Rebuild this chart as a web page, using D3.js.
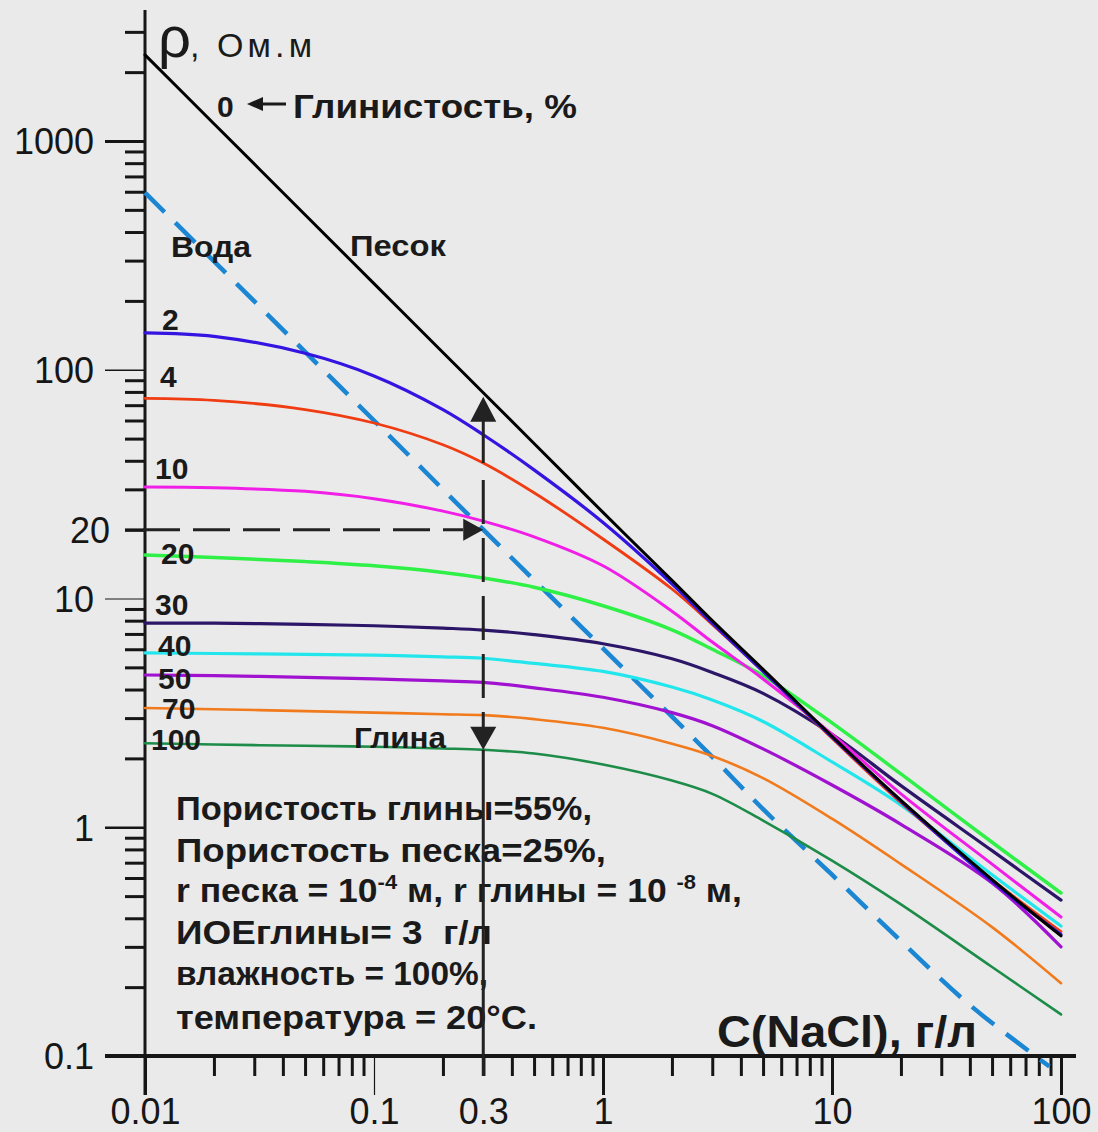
<!DOCTYPE html>
<html><head><meta charset="utf-8">
<script src="https://cdn.jsdelivr.net/npm/d3@7"></script>
<style>
body{margin:0;background:#eaeaea}
svg{display:block}
text{font-family:"Liberation Sans",Arial,sans-serif;white-space:pre}
</style>
</head><body>
<svg id="chart" width="1098" height="1132"></svg>
<script>
// ---------------- DATA ----------------
const concentration = [0.01, 0.02, 0.05, 0.1, 0.2, 0.3, 0.5, 1, 2, 3, 5, 10, 20, 50, 100];
const clay0   = [2380, 1190, 476, 238, 119, 79.3, 47.6, 23.8, 12.0, 8.0, 4.9, 2.5, 1.31, 0.59, 0.335];
const clay2   = [145, 140, 118, 94, 67, 52, 36.5, 21.5, 11.6, 7.8, 4.8, 2.48, 1.3, 0.58, 0.34];
const clay4   = [75, 73.5, 67, 58.5, 47, 39.1, 29, 18.2, 11.0, 7.7, 4.8, 2.45, 1.28, 0.59, 0.35];
const clay10  = [30.7, 30.5, 29.4, 27.3, 24.1, 21.8, 18.6, 13.9, 8.8, 6.45, 4.45, 2.55, 1.4, 0.69, 0.405];
const clay20  = [15.5, 15.1, 14.5, 13.9, 13.0, 12.3, 11.2, 9.3, 7.3, 6.0, 4.6, 2.86, 1.71, 0.86, 0.516];
const clay30  = [7.8, 7.8, 7.7, 7.6, 7.42, 7.28, 6.95, 6.34, 5.45, 4.75, 3.85, 2.55, 1.52, 0.79, 0.48];
const clay40  = [5.78, 5.75, 5.7, 5.65, 5.56, 5.48, 5.2, 4.8, 4.1, 3.6, 2.9, 1.93, 1.25, 0.62, 0.37];
const clay50  = [4.63, 4.6, 4.52, 4.45, 4.36, 4.3, 4.07, 3.7, 3.17, 2.78, 2.2, 1.53, 1.03, 0.571, 0.30];
const clay70  = [3.32, 3.28, 3.22, 3.17, 3.12, 3.09, 2.97, 2.72, 2.32, 2.05, 1.64, 1.09, 0.69, 0.366, 0.208];
const clay100 = [2.33, 2.3, 2.27, 2.25, 2.21, 2.18, 2.1, 1.88, 1.6, 1.4, 1.07, 0.715, 0.46, 0.245, 0.152];

const waterConc = [0.01, 0.1, 0.3, 1, 3, 5, 10, 20, 40, 89];
const waterRho  = [595, 60, 20, 6.05, 2.03, 1.2, 0.62, 0.318, 0.167, 0.09];

const seriesNames  = ["0", "2", "4", "10", "20", "30", "40", "50", "70", "100"];
const xMajorTicks  = [0.01, 0.1, 1, 10, 100];
const xMajorLabels = ["0.01", "0.1", "1", "10", "100"];
const xExtraTick   = [0.3];
const yMajorTicks  = [0.1, 1, 10, 100, 1000];
const yMajorLabels = ["0.1", "1", "10", "100", "1000"];
const yExtraTick   = [20];
const markValue    = 20;    // ρ marked by the horizontal arrow
const markConc     = 0.3;   // C marked by the vertical arrow

// ---------------- LAYOUT ----------------
const svg = d3.select("#chart");
svg.append("rect").attr("width", 1098).attr("height", 1132).attr("fill", "#eaeaea");

const x = d3.scaleLog().domain([0.01, 100]).range([145, 1061]);
const y = d3.scaleLog().domain([0.1, 1000]).range([1056, 141]);
const ink = "#161616";
const FONT = "Liberation Sans, Arial, sans-serif";

// minor ticks
const xMinor = [], yMinor = [];
[0.01, 0.1, 1, 10].forEach(d => { for (let k = 2; k <= 9; k++) xMinor.push(+(d * k).toPrecision(3)); });
[0.1, 1, 10, 100].forEach(d => { for (let k = 2; k <= 9; k++) yMinor.push(+(d * k).toPrecision(3)); });
yMinor.push(2000, 3000);

function styleAxis(g) { g.select(".domain").remove(); g.selectAll("line").attr("stroke", ink); }

// Y minor
svg.append("g").attr("transform", "translate(145,0)")
  .call(d3.axisLeft(y).tickValues(yMinor).tickSize(20).tickFormat(""))
  .call(styleAxis).call(g => g.selectAll("line").attr("stroke-width", 3));
// Y major
const yMajW = {0.1: 0, 1: 2.5, 10: 1.2, 100: 1.5, 1000: 3};
svg.append("g").attr("transform", "translate(145,0)")
  .call(d3.axisLeft(y).tickValues(yMajorTicks).tickSize(40).tickPadding(11)
        .tickFormat((d, i) => yMajorLabels[i]))
  .call(styleAxis)
  .call(g => g.selectAll("line").attr("stroke-width", d => yMajW[d]))
  .call(g => g.selectAll("text").attr("font-size", 36).attr("fill", ink)
        .attr("font-family", FONT).attr("dy", "0.36em"));
svg.append("g").attr("transform", "translate(145,0)")
  .call(d3.axisLeft(y).tickValues(yExtraTick).tickSize(20).tickPadding(15).tickFormat(d3.format("d")))
  .call(styleAxis)
  .call(g => g.selectAll("line").attr("stroke-width", 3))
  .call(g => g.selectAll("text").attr("font-size", 36).attr("fill", ink)
        .attr("font-family", FONT).attr("dy", "0.36em"));

// X minor
svg.append("g").attr("transform", "translate(0,1056)")
  .call(d3.axisBottom(x).tickValues(xMinor).tickSize(20).tickFormat(""))
  .call(styleAxis).call(g => g.selectAll("line").attr("stroke-width", 3));
// X major
const xMajW = {0.01: 3, 0.1: 1.2, 1: 3, 10: 3, 100: 3};
svg.append("g").attr("transform", "translate(0,1056)")
  .call(d3.axisBottom(x).tickValues(xMajorTicks).tickSize(39).tickPadding(3)
        .tickFormat((d, i) => xMajorLabels[i]))
  .call(styleAxis)
  .call(g => g.selectAll("line").attr("stroke-width", d => xMajW[d]))
  .call(g => g.selectAll("text").attr("font-size", 36).attr("fill", ink).attr("font-family", FONT));
svg.append("g").attr("transform", "translate(0,1056)")
  .call(d3.axisBottom(x).tickValues(xExtraTick).tickSize(20).tickPadding(22).tickFormat(d => String(d)))
  .call(styleAxis)
  .call(g => g.selectAll("line").attr("stroke-width", 3))
  .call(g => g.selectAll("text").attr("font-size", 36).attr("fill", ink).attr("font-family", FONT));

// axis lines
svg.append("line").attr("x1", x(0.01)).attr("x2", x(0.01)).attr("y1", 10).attr("y2", 1095)
  .attr("stroke", ink).attr("stroke-width", 3);
svg.append("line").attr("x1", 105).attr("x2", 1076).attr("y1", y(0.1)).attr("y2", y(0.1))
  .attr("stroke", ink).attr("stroke-width", 4);

// ---------------- CURVES ----------------
const line = d3.line().x(d => x(d[0])).y(d => y(d[1])).curve(d3.curveCatmullRom.alpha(0.5));

// water (dashed)
svg.append("path").datum(d3.zip(waterConc, waterRho)).attr("d", line)
  .attr("fill", "none").attr("stroke", "#1b86d3").attr("stroke-width", 4.5)
  .attr("stroke-dasharray", "28,15");

const series = [
  {v: clay100, c: "#1c8c48", w: 2.6},
  {v: clay70,  c: "#f07a1c", w: 2.6},
  {v: clay50,  c: "#a012d0", w: 3.2},
  {v: clay40,  c: "#22e6ec", w: 3.2},
  {v: clay30,  c: "#2c1668", w: 3.2},
  {v: clay20,  c: "#2ef046", w: 3.5},
  {v: clay10,  c: "#f01ee6", w: 3.0},
  {v: clay4,   c: "#f03c12", w: 2.8},
  {v: clay2,   c: "#3414e0", w: 3.2},
  {v: clay0,   c: "#000000", w: 3.0}
];
series.forEach(s => {
  svg.append("path").datum(d3.zip(concentration, s.v)).attr("d", line)
    .attr("fill", "none").attr("stroke", s.c).attr("stroke-width", s.w)
    .attr("stroke-linejoin", "round").attr("stroke-linecap", "round");
});

// ---------------- ARROWS ----------------
const iMark = concentration.indexOf(markConc);
const xa = x(markConc);
const yTop = y(clay0[iMark]) + 4;
const yRed = y(clay4[iMark]);
const yBot = y(clay100[iMark]);
const ym = y(markValue);
const ar = svg.append("g");
ar.append("path").attr("d", `M${xa},${yTop} L${xa - 13},${yTop + 25} L${xa + 13},${yTop + 25} Z`).attr("fill", "#222");
ar.append("line").attr("x1", xa).attr("x2", xa).attr("y1", yTop + 24).attr("y2", yRed)
  .attr("stroke", "#222").attr("stroke-width", 3);
ar.append("line").attr("x1", xa).attr("x2", xa).attr("y1", yRed + 17).attr("y2", yBot - 22)
  .attr("stroke", "#222").attr("stroke-width", 3).attr("stroke-dasharray", "44,14");
ar.append("path").attr("d", `M${xa},${yBot} L${xa - 13},${yBot - 23} L${xa + 13},${yBot - 23} Z`).attr("fill", "#222");
ar.append("line").attr("x1", xa).attr("x2", xa).attr("y1", 1056).attr("y2", 1076)
  .attr("stroke", "#222").attr("stroke-width", 3);
ar.append("line").attr("x1", x(0.01) - 2).attr("x2", xa - 20).attr("y1", ym).attr("y2", ym)
  .attr("stroke", "#222").attr("stroke-width", 3).attr("stroke-dasharray", "37,13");
ar.append("path").attr("d", `M${xa},${ym} L${xa - 20},${ym - 11} L${xa - 20},${ym + 11} Z`).attr("fill", "#222");

// ---------------- TEXT ----------------
function txt(xp, yp, s, size, bold, len, adj) {
  const t = svg.append("text").attr("x", xp).attr("y", yp).attr("font-size", size)
    .attr("font-weight", bold ? "bold" : "normal").attr("fill", "#1a1a1a").text(s);
  if (len) t.attr("textLength", len).attr("lengthAdjust", adj || "spacingAndGlyphs");
  return t;
}
txt(158, 57, "ρ", 58, false);
txt(190, 57, ", Ом.м", 34, false, 122, "spacing");
txt(717, 1047, "C(NaCl), г/л", 44, true, 260);
txt(217, 117, seriesNames[0], 30, true);
svg.append("line").attr("x1", 260).attr("x2", 286).attr("y1", 104).attr("y2", 104).attr("stroke", "#1a1a1a").attr("stroke-width", 3);
svg.append("path").attr("d", "M247,104 L263,97 L263,111 Z").attr("fill", "#1a1a1a");
txt(293, 118, "Глинистость, %", 34, true, 284);
txt(171, 257, "Вода", 30, true, 80);
txt(350, 256, "Песок", 30, true, 96);
txt(354, 748, "Глина", 30, true, 92);
const labelPos = [null, [162, 330], [160, 387], [155, 479], [161, 564], [155, 615], [158, 656], [158, 689], [162, 719], [151, 750]];
seriesNames.forEach((n, i) => { if (labelPos[i]) txt(labelPos[i][0], labelPos[i][1], n, 30, true); });

txt(176, 820, "Пористость глины=55%,", 34, true, 416);
txt(176, 862, "Пористость песка=25%,", 34, true, 430);
const l3 = svg.append("text").attr("x", 176).attr("y", 902).attr("font-size", 34)
  .attr("font-weight", "bold").attr("fill", "#1a1a1a");
l3.append("tspan").text("r песка = 10");
l3.append("tspan").attr("font-size", 21).attr("dy", -13).text("-4");
l3.append("tspan").attr("dy", 13).text(" м, r глины = 10 ");
l3.append("tspan").attr("font-size", 21).attr("dy", -13).text("-8");
l3.append("tspan").attr("dy", 13).text(" м,");
l3.attr("textLength", 566).attr("lengthAdjust", "spacingAndGlyphs");
txt(176, 944, "ИОЕглины= 3  г/л", 34, true, 316);
txt(176, 985, "влажность = 100%,", 34, true, 312);
txt(176, 1029, "температура = 20°C.", 34, true, 361);

// vertical guide drawn over the text block
svg.append("line").attr("x1", xa).attr("x2", xa).attr("y1", yBot).attr("y2", 1056)
  .attr("stroke", "#222").attr("stroke-width", 3);
</script>
</body></html>
